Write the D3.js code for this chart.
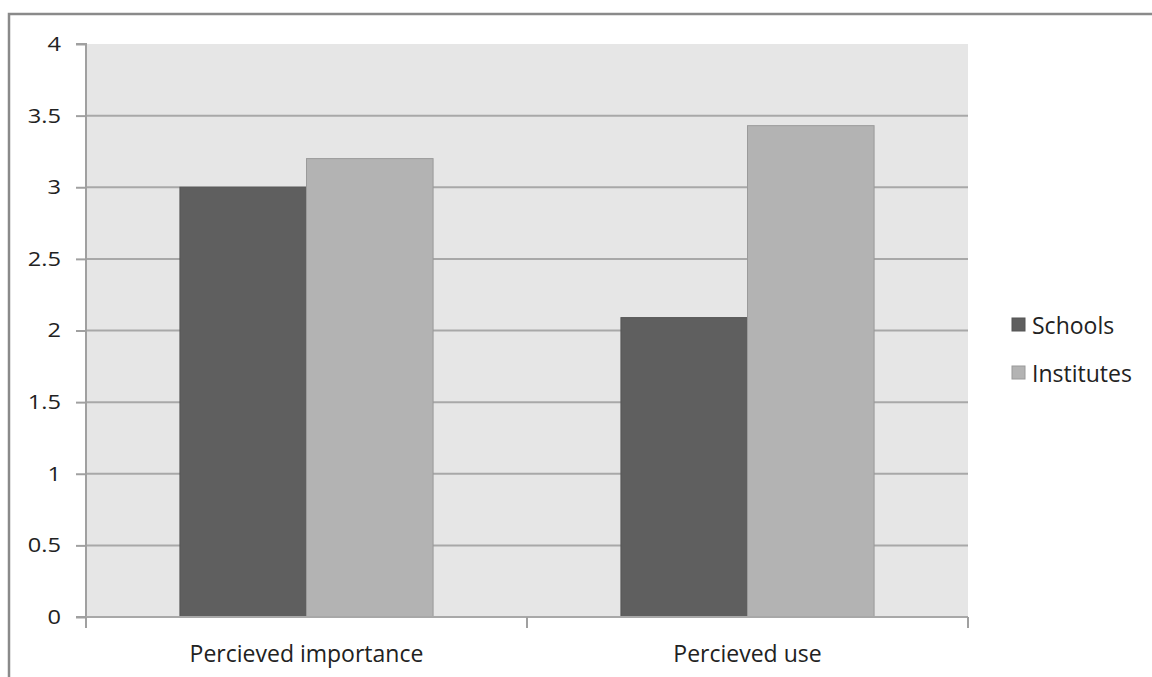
<!DOCTYPE html>
<html><head><meta charset="utf-8">
<script src="https://cdn.jsdelivr.net/npm/d3@7"></script>
<style>body{margin:0;background:#fff}svg{display:block}text{font-family:"Open Sans",Lato,sans-serif;fill:#222}</style>
</head><body>
<svg id="c" width="1152" height="677"></svg>
<script>
const categories = ["Percieved importance", "Percieved use"];
const seriesNames = ["Schools", "Institutes"];
const schools = [3.0, 2.09];
const institutes = [3.2, 3.43];
const yTicks = [0, 0.5, 1, 1.5, 2, 2.5, 3, 3.5, 4];
const yTickLabels = ["0", "0.5", "1", "1.5", "2", "2.5", "3", "3.5", "4"];
const colors = ["#5f5f5f", "#b3b3b3"];
const strokes = ["#555555", "#9a9a9a"];

const svg = d3.select("#c");
const L = 86, R = 968, T = 44, B = 617;
// outer frame
svg.append("path").attr("d", `M9,677 V14 H1152`).attr("fill","none").attr("stroke","#8a8a8a").attr("stroke-width",2.5);

const y = d3.scaleLinear().domain([0,4]).range([B,T]);
const x0 = d3.scaleBand().domain(categories).range([L,R]).paddingInner(0).paddingOuter(0);
const groupW = x0.bandwidth()*0.574;
const x1 = d3.scaleBand().domain(seriesNames).range([0,groupW]);

svg.append("rect").attr("x",L).attr("y",T).attr("width",R-L).attr("height",B-T).attr("fill","#e6e6e6");

// gridlines
svg.append("g").selectAll("line").data(yTicks.filter(d=>d>0 && d<4)).join("line")
  .attr("x1",L).attr("x2",R).attr("y1",d=>y(d)).attr("y2",d=>y(d))
  .attr("stroke","#a8a8a8").attr("stroke-width",2);

// bars
const data = categories.map((c,i)=>({c, vals:[schools[i], institutes[i]]}));
const g = svg.append("g");
data.forEach(d=>{
  const gx = x0(d.c) + (x0.bandwidth()-groupW)/2;
  g.selectAll(null).data(d.vals.map((v,j)=>({v,j}))).join("rect")
    .attr("x",e=>gx + x1(seriesNames[e.j]))
    .attr("y",e=>y(e.v))
    .attr("width",x1.bandwidth())
    .attr("height",e=>B-y(e.v))
    .attr("fill",e=>colors[e.j])
    .attr("stroke",e=>strokes[e.j]).attr("stroke-width",1);
});

// y axis
const yAxis = d3.axisLeft(y).tickValues(yTicks).tickFormat((d,i)=>yTickLabels[i]).tickSize(10).tickPadding(15);
const ya = svg.append("g").attr("transform",`translate(${L},0)`).call(yAxis);
ya.select(".domain").attr("stroke","#a0a0a0").attr("stroke-width",2).attr("d",`M-10,${T}H0V${B}H-10`);
ya.selectAll(".tick line").attr("stroke","#a0a0a0").attr("stroke-width",2);
const sx = 1.18;
ya.selectAll("text").style("font-size","20px").attr("fill","#222").attr("font-family","'Open Sans',sans-serif")
  .attr("x", -25/sx).attr("transform",`scale(${sx},1)`);

// x axis
const xa = svg.append("g").attr("transform",`translate(0,${B})`);
xa.append("line").attr("x1",L).attr("x2",R).attr("stroke","#a8a8a8").attr("stroke-width",2);
xa.selectAll(".tk").data([L, x0(categories[1]), R]).join("line")
  .attr("x1",d=>d).attr("x2",d=>d).attr("y1",0).attr("y2",11).attr("stroke","#a0a0a0").attr("stroke-width",2);
xa.selectAll("text").data(categories).join("text")
  .attr("x",d=>x0(d)+x0.bandwidth()/2).attr("y",45).attr("text-anchor","middle")
  .style("font-size","23px").text(d=>d);

// legend
const lg = svg.append("g").attr("transform","translate(1012,318)");
seriesNames.forEach((s,i)=>{
  lg.append("rect").attr("x",0).attr("y",i*48).attr("width",13).attr("height",13)
    .attr("fill",colors[i]).attr("stroke",strokes[i]);
  lg.append("text").attr("x",20).attr("y",i*48+16).style("font-size","23px").text(s);
});
</script>
</body></html>
